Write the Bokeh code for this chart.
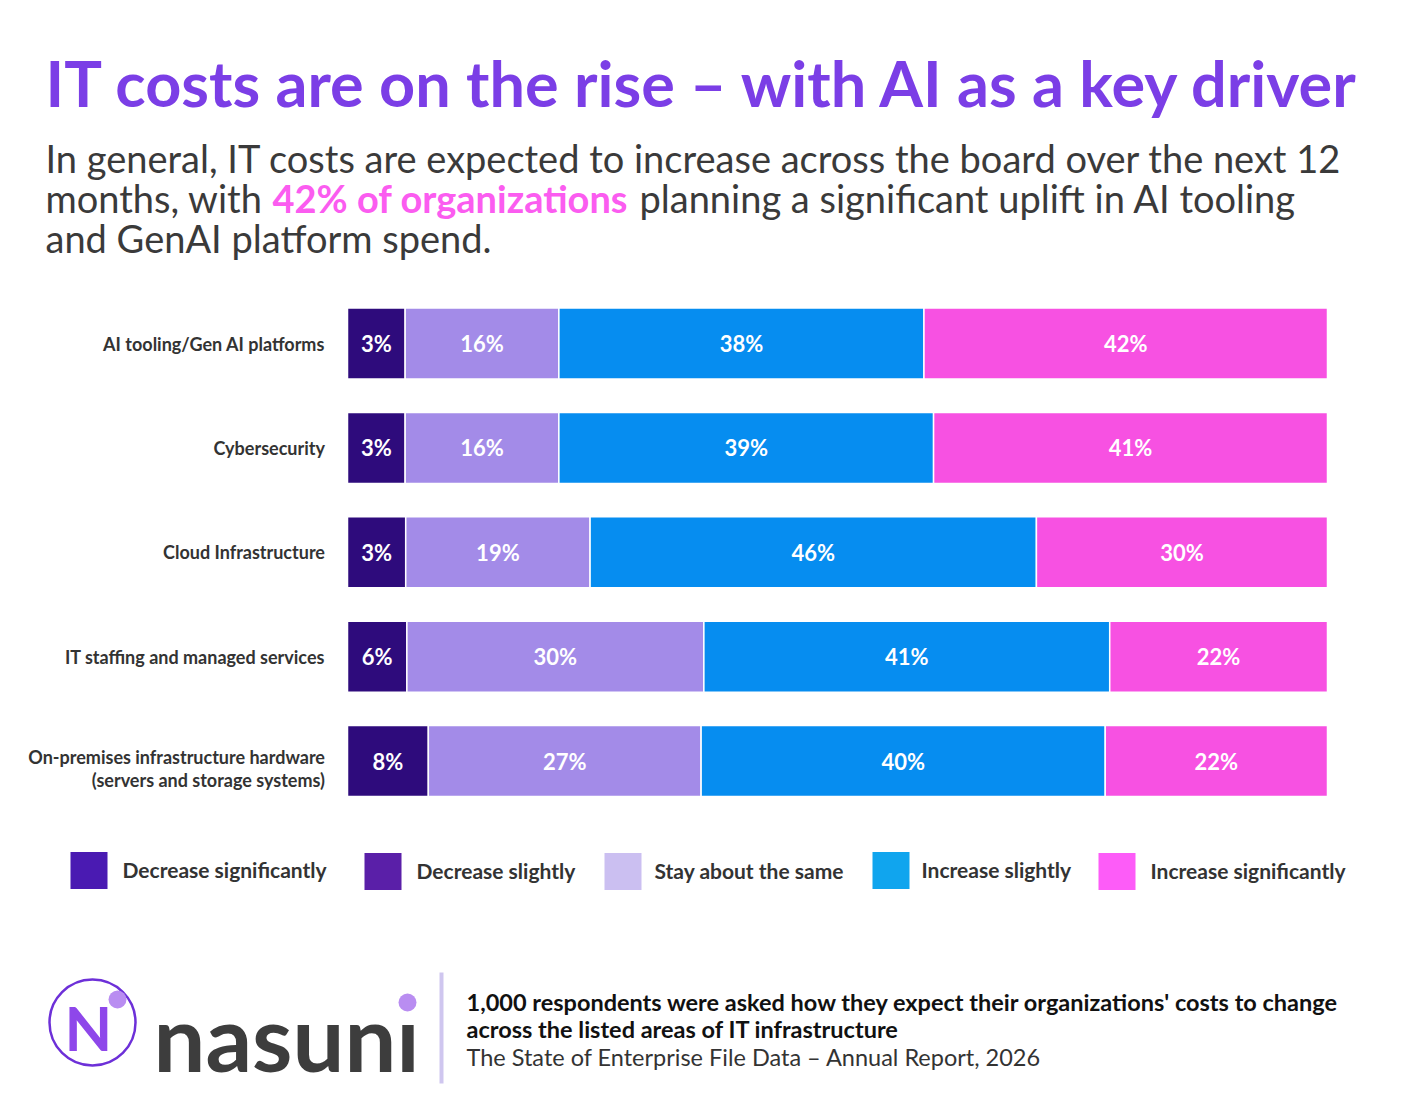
from bokeh.plotting import figure
from bokeh.models import Range1d, ColumnDataSource
from bokeh.core.properties import value
from bokeh.embed import file_html
from bokeh.resources import INLINE

# survey data (percent of respondents)
categories = ["AI tooling/Gen AI platforms", "Cybersecurity", "Cloud Infrastructure",
              "IT staffing and managed services",
              "On-premises infrastructure hardware\n(servers and storage systems)"]
decrease = [3, 3, 3, 6, 8]
stay_same = [16, 16, 19, 30, 27]
increase_slightly = [38, 39, 46, 41, 40]
increase_significantly = [42, 41, 30, 22, 22]

series = [decrease, stay_same, increase_slightly, increase_significantly]
bar_colors = ["#2e0b7c", "#a38be8", "#068df0", "#f751e2"]

legend_labels = ["Decrease significantly", "Decrease slightly", "Stay about the same",
                 "Increase slightly", "Increase significantly"]
legend_colors = ["#4a1ab2", "#5a1fa8", "#cbbff1", "#10a5ee", "#fd5cf8"]

FONT = value("Lato")
W, H = 1392, 1100
MIN_SEG = 6  # small segments are drawn a bit wider so the label fits

p = figure(width=W, height=H, x_range=Range1d(0, W), y_range=Range1d(H, 0),
           output_backend="svg", toolbar_location=None, min_border=0)
p.axis.visible = False
p.grid.visible = False
p.outline_line_color = None
p.background_fill_color = "white"
p.border_fill_color = "white"

# bar area: 0..100 % spans x 347..1327, rows 104.4 px apart starting at y=343
px_per_pct = 9.8
x0 = 347
p.extra_x_ranges = {"pct": Range1d(-x0 / px_per_pct, (W - x0) / px_per_pct)}
row_px = 104.4
top = -343 / row_px
p.extra_y_ranges = {"row": Range1d(top + H / row_px, top)}

rows = list(range(len(categories)))
shown = [[max(v, MIN_SEG) for v in s] for s in series]
totals = [sum(s[i] for s in shown) for i in rows]
left = [0.0] * len(rows)
for vals, disp, col in zip(series, shown, bar_colors):
    share = [v / t * 100 for v, t in zip(disp, totals)]
    right = [l + s for l, s in zip(left, share)]
    src = ColumnDataSource(dict(y=rows, left=left, right=right,
                                mid=[(a + b) / 2 for a, b in zip(left, right)],
                                lab=[f"{v}%" for v in vals]))
    p.hbar(y="y", left="left", right="right", height=0.68, source=src,
           fill_color=col, line_color="white", line_width=1.5,
           x_range_name="pct", y_range_name="row")
    p.text(x="mid", y="y", text="lab", source=src, x_range_name="pct", y_range_name="row",
           text_font=FONT, text_font_style="bold", text_font_size="22px",
           text_color="white", text_align="center", text_baseline="middle")
    left = right

# category labels
p.text(x=[-2.3] * len(rows), y=[r + 0.07 * (r == 4) for r in rows], text=categories,
       x_range_name="pct", y_range_name="row",
       text_font=FONT, text_font_style="bold", text_font_size="18px", text_color="#333333",
       text_align="right", text_baseline="middle", text_line_height=1.05)

# title and subtitle
p.text(x=[45], y=[82], text=["IT costs are on the rise \u2013 with AI as a key driver"],
       text_font=FONT, text_font_style="bold", text_font_size="63px", text_color="#7b3ee6",
       text_baseline="middle")
sub_style = dict(text_font=FONT, text_font_size="38px", text_color="#3a3a3a", text_baseline="middle")
p.text(x=[45], y=[157], text=["In general, IT costs are expected to increase across the board over the next 12"], **sub_style)
p.text(x=[45], y=[197], text=["months, with"], **sub_style)
p.text(x=[272], y=[197], text=["42% of organizations"], text_font=FONT, text_font_style="bold",
       text_font_size="38px", text_color="#fb5cf0", text_baseline="middle")
p.text(x=[639], y=[197], text=["planning a significant uplift in AI tooling"], **sub_style)
p.text(x=[45], y=[237], text=["and GenAI platform spend."], **sub_style)

# legend
sw_x = [70, 364, 604, 872, 1098]
sw_y = [870, 871, 871, 870, 871]
lab_x = [122, 416, 654, 921, 1150]
p.rect(x=[x + 18.5 for x in sw_x], y=sw_y, width=37, height=37,
       fill_color=legend_colors, line_color=None)
p.text(x=lab_x, y=[y - 1 for y in sw_y], text=legend_labels, text_font=FONT,
       text_font_style="bold", text_font_size="21px", text_color="#333333",
       text_baseline="middle")

# footer logo
p.circle(x=[92], y=[1022], radius=43, fill_color=None, line_color="#6d30d8", line_width=2.5)
p.text(x=[88], y=[1026], text=["N"], text_font=FONT, text_font_style="bold",
       text_font_size="62px", text_color="#8e47ea", text_align="center", text_baseline="middle")
p.circle(x=[117], y=[999], radius=9, fill_color="#b98df1", line_color=None)
p.text(x=[153], y=[1036], text=["nasun\u0131"], text_font=FONT, text_font_style="bold",
       text_font_size="92px", text_color="#3d3d3d", text_baseline="middle")
p.circle(x=[407], y=[1002], radius=9, fill_color="#b98df1", line_color=None)

# footer note
p.segment(x0=[441], y0=[972], x1=[441], y1=[1083], line_color="#cfc6ef", line_width=4)
p.text(x=[466, 466], y=[1001, 1028],
       text=["1,000 respondents were asked how they expect their organizations' costs to change",
             "across the listed areas of IT infrastructure"],
       text_font=FONT, text_font_style="bold", text_font_size="23.5px", text_color="#111111",
       text_baseline="middle")
p.text(x=[466], y=[1056], text=["The State of Enterprise File Data \u2013 Annual Report, 2026"],
       text_font=FONT, text_font_size="23.5px", text_color="#333333", text_baseline="middle")

open("out.html", "w").write(file_html(p, INLINE))
